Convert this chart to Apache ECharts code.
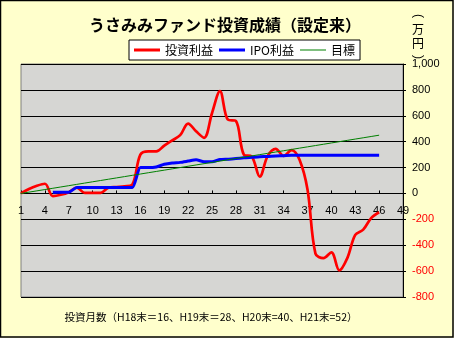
<!DOCTYPE html>
<html>
<head>
<meta charset="utf-8">
<script src="https://cdn.jsdelivr.net/npm/echarts@6/dist/echarts.min.js"></script>
<style>
html,body{margin:0;padding:0;background:#FFFFCC;}
#chart{width:454px;height:338px;}
</style>
</head>
<body>
<div id="chart"></div>
<script>
// Months (x categories)
const months = ['1','2','3','4','5','6','7','8','9','10','11','12','13','14','15','16','17','18','19','20','21','22','23','24','25','26','27','28','29','30','31','32','33','34','35','36','37','38','39','40','41','42','43','44','45','46','47','48','49'];
// 投資利益 (万円)
const investProfit = [0,35,60,75,-20,-10,10,45,5,5,5,45,50,55,70,300,325,325,370,410,450,540,480,430,620,790,570,560,300,285,130,290,345,290,335,260,30,-465,-500,-455,-595,-500,-320,-280,-190,-145];
// IPO利益 (万円)
const ipoProfit = [null,null,null,null,10,10,10,45,45,45,45,45,45,45,45,200,200,205,225,235,240,250,260,245,245,262,265,270,275,280,283,286,290,292,295,295,295,295,295,295,295,295,296,296,296,296];
// 目標 (万円)
const target = [0,10,20,30,40,50,60,70,80,90,100,110,120,130,140,150,160,170,180,190,200,210,220,230,240,250,260,270,280,290,300,310,320,330,340,350,360,370,380,390,400,410,420,430,440,450];
// Y tick values
const yMin = -800, yMax = 1000, yStep = 200;

const seriesNames = ['投資利益','IPO利益','目標'];
const cjk = '"Noto Sans CJK JP", "Noto Sans", sans-serif';
const num = '"Liberation Sans", Arial, sans-serif';

const gridTop = 64, gridBottom = 41, chartH = 338;
const gridH = chartH - gridTop - gridBottom;
// place the category axis on the zero line (offset from grid bottom)
const zeroOffset = -(gridH * (0 - yMin) / (yMax - yMin));

const thickIcon = 'path://M0,0 L0,0.01 M26,14 L26,13.99 M0,5.5 H26 V8.5 H0 Z';
const thinIcon = 'path://M0,0 L0,0.01 M26,14 L26,13.99 M0,6.5 H26 V7.5 H0 Z';

const chart = echarts.init(document.getElementById('chart'), null, {renderer:'canvas'});
chart.setOption({
  backgroundColor: '#FFFFCC',
  animation: false,
  grid: {left:21, right:51, top:gridTop, bottom:gridBottom, show:true, backgroundColor:'#d6d6d3', borderColor:'#808080', borderWidth:1},
  legend: {
    data: [
      {name: seriesNames[0], icon: thickIcon},
      {name: seriesNames[1], icon: thickIcon},
      {name: seriesNames[2], icon: thinIcon}
    ],
    left: 129, top: 40,
    padding: [3,5,3,5],
    itemGap: 6,
    itemWidth: 26, itemHeight: 14,
    backgroundColor: '#ffffff',
    borderColor: '#000000', borderWidth: 1,
    textStyle: {fontFamily: cjk, fontSize: 12, color:'#000'}
  },
  xAxis: {
    type: 'category',
    data: months,
    boundaryGap: false,
    position: 'bottom',
    offset: zeroOffset,
    axisLine: {onZero: false, lineStyle: {color:'#000', width:1}},
    axisTick: {show:true, inside:true, length:3, interval:2, lineStyle:{color:'#000'}},
    axisLabel: {interval:2, margin:12, fontSize:11, fontFamily:num, color:'#000', showMinLabel:true, showMaxLabel:true},
    splitLine: {show:false}
  },
  yAxis: {
    type: 'value',
    position: 'right',
    min: yMin, max: yMax, interval: yStep,
    axisLine: {show:true, lineStyle:{color:'#000', width:1}},
    axisTick: {show:true, length:3, lineStyle:{color:'#000'}},
    axisLabel: {
      margin: 9, fontSize: 11, fontFamily: num,
      formatter: v => v.toLocaleString('en-US'),
      color: v => (Number(v) < 0 ? '#ff0000' : '#000000')
    },
    splitLine: {show:true, lineStyle:{color:'#000', width:1}}
  },
  series: [
    {name: seriesNames[0], type:'line', data: investProfit, symbol:'none', smooth:0.35,
     lineStyle:{color:'#ff0000', width:2.7}, itemStyle:{color:'#ff0000'}},
    {name: seriesNames[1], type:'line', data: ipoProfit, symbol:'none', smooth:0.2,
     lineStyle:{color:'#0000ff', width:3}, itemStyle:{color:'#0000ff'}},
    {name: seriesNames[2], type:'line', data: target, symbol:'none', smooth:false,
     lineStyle:{color:'#008000', width:1}, itemStyle:{color:'#008000'}}
  ],
  graphic: [
    {type:'rect', shape:{x:0.5, y:0.5, width:452.5, height:336.5}, style:{fill:'none', stroke:'#000', lineWidth:1.5}, silent:true},
    {type:'text', x:225, y:25, style:{text:'うさみみファンド投資成績（設定来）', font:'bold 16px ' + cjk, fill:'#000', textAlign:'center', textVerticalAlign:'middle'}},
    {type:'text', x:418, y:16, rotation:-Math.PI/2, style:{text:'(', font:'12px ' + num, fill:'#000', textAlign:'center', textVerticalAlign:'middle'}},
    {type:'text', x:418, y:29, style:{text:'万', font:'12px ' + cjk, fill:'#000', textAlign:'center', textVerticalAlign:'middle'}},
    {type:'text', x:418, y:43, style:{text:'円', font:'12px ' + cjk, fill:'#000', textAlign:'center', textVerticalAlign:'middle'}},
    {type:'text', x:418, y:57, rotation:-Math.PI/2, style:{text:')', font:'12px ' + num, fill:'#000', textAlign:'center', textVerticalAlign:'middle'}},
    {type:'text', x:211, y:317, style:{text:'投資月数（H18末＝16、H19末＝28、H20末=40、H21末=52）', font:'10.5px ' + cjk, fill:'#000', textAlign:'center', textVerticalAlign:'middle'}}
  ]
});
</script>
</body>
</html>
